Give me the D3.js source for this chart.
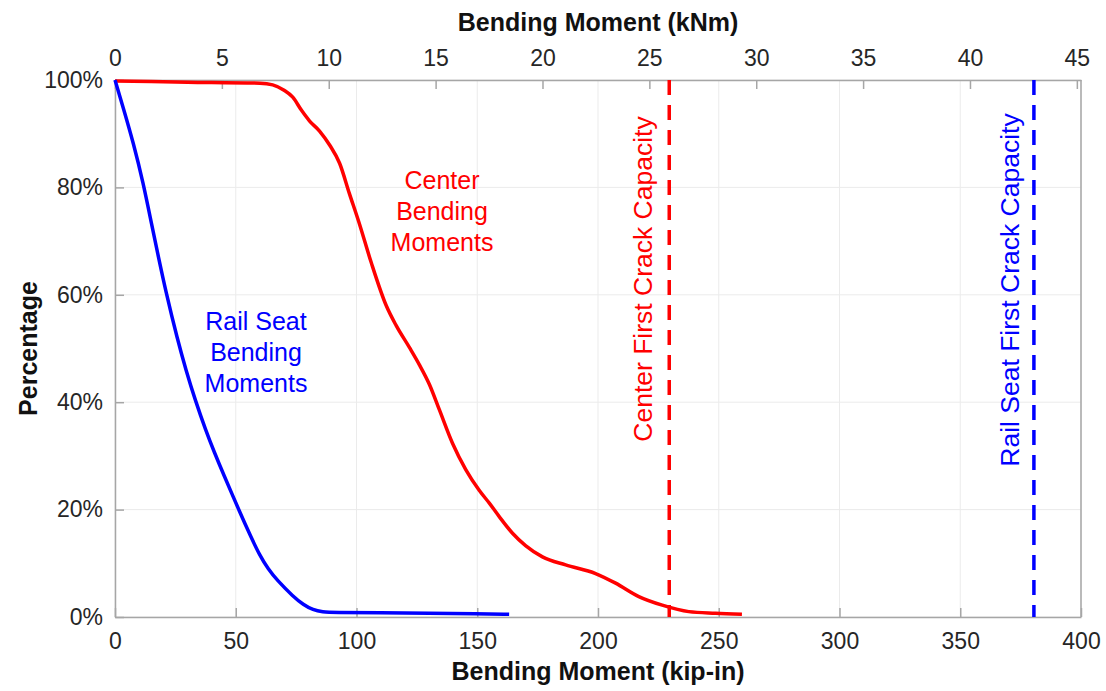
<!DOCTYPE html>
<html>
<head>
<meta charset="utf-8">
<script src="https://cdn.jsdelivr.net/npm/d3@7"></script>
<style>
  html, body { margin: 0; padding: 0; background: #fff; }
  svg { display: block; font-family: "Liberation Sans", Arial, Helvetica, sans-serif; }
</style>
</head>
<body>
<svg id="chart" width="1106" height="691"></svg>
<script>
// Cumulative exceedance of bending moment: [kip-in, percent]
const centerSeries = [
  [0, 99.8], [30, 99.6], [60, 99.4], [65.3, 99.1], [70, 98.1], [73.6, 96.8],
  [77.3, 94.3], [80.5, 92.4], [84.7, 90.5], [89, 87.8], [93, 84.5], [97.1, 78.8],
  [101, 73.5], [106.1, 66], [112.3, 58], [116.4, 54.3], [121.9, 50.2], [126, 47],
  [130.2, 43.3], [134.3, 38.6], [139.7, 32.4], [145.3, 27.4], [150.8, 23.6],
  [155, 21.2], [159.1, 18.7], [164.6, 15.6], [170, 13.3], [177, 11.2],
  [186.6, 9.7], [199, 8.1], [207.3, 6.3], [216.9, 3.8], [226.6, 2.2],
  [237.6, 1.0], [248.6, 0.7], [259.6, 0.5]
];
const railSeatSeries = [
  [0, 100], [3.5, 94.7], [7.6, 88.3], [11.7, 80.8], [15, 73.5], [18, 67.0],
  [20.9, 60.9], [25.9, 51.6], [29.5, 45.8], [33.2, 40.4], [37.7, 34.6],
  [41.2, 30.6], [44.7, 26.8], [51.8, 19.4], [56, 15.2], [60, 11.4], [63.5, 8.9],
  [67, 6.9], [73.8, 3.8], [78, 2.3], [82, 1.3], [86, 0.95], [90.3, 0.85],
  [110, 0.8], [130, 0.7], [150, 0.6], [163.2, 0.5]
];

// First crack capacities (kip-in)
const centerCapacity = 229.5;
const railSeatCapacity = 380.5;

// Axis ticks and labels
const xTicksKipIn = [0, 50, 100, 150, 200, 250, 300, 350, 400];
const xTicksKNm = [0, 5, 10, 15, 20, 25, 30, 35, 40, 45];
const yTicks = [0, 20, 40, 60, 80, 100];
const kipInPerKNm = 8.8507;

const xTitleBottom = "Bending Moment (kip-in)";
const xTitleTop = "Bending Moment (kNm)";
const yTitle = "Percentage";
const centerLabel = ["Center", "Bending", "Moments"];
const railSeatLabel = ["Rail Seat", "Bending", "Moments"];
const centerCapLabel = "Center First Crack Capacity";
const railSeatCapLabel = "Rail Seat First Crack Capacity";

const RED = "#ff0000", BLUE = "#0000ff";
const AXIS = "#a6a6a6", GRID = "#ebebeb", TICKTXT = "#262626";

const svg = d3.select("#chart");
const m = { left: 115, right: 1081, top: 80, bottom: 617 };

const x = d3.scaleLinear().domain([0, 400]).range([m.left, m.right]);
const xTop = d3.scaleLinear().domain([0, 400 / kipInPerKNm]).range([m.left, m.right]);
const y = d3.scaleLinear().domain([0, 100]).range([m.bottom, m.top]);

// Grid
const grid = svg.append("g");
grid.selectAll("line.gx").data(xTicksKipIn).join("line")
  .attr("x1", d => x(d)).attr("x2", d => x(d))
  .attr("y1", m.top).attr("y2", m.bottom)
  .attr("stroke", GRID).attr("stroke-width", 1);
grid.selectAll("line.gy").data(yTicks).join("line")
  .attr("x1", m.left).attr("x2", m.right)
  .attr("y1", d => y(d)).attr("y2", d => y(d))
  .attr("stroke", GRID).attr("stroke-width", 1);

// Axes (ticks point inward)
function styleAxis(g) {
  g.select(".domain").attr("stroke", AXIS).attr("stroke-width", 1.5);
  g.selectAll(".tick line").attr("stroke", AXIS).attr("stroke-width", 1.5);
  g.selectAll(".tick text").attr("fill", TICKTXT)
    .style("font-size", "23px").style("font-family", "'Liberation Sans', Arial, sans-serif");
}

svg.append("g").attr("transform", `translate(0,${m.bottom})`)
  .call(d3.axisBottom(x).tickValues(xTicksKipIn).tickFormat(d3.format("d"))
    .tickSizeInner(-9).tickSizeOuter(0).tickPadding(16))
  .call(styleAxis);

svg.append("g").attr("transform", `translate(0,${m.top})`)
  .call(d3.axisTop(xTop).tickValues(xTicksKNm).tickFormat(d3.format("d"))
    .tickSizeInner(-9).tickSizeOuter(0).tickPadding(14))
  .call(styleAxis);

svg.append("g").attr("transform", `translate(${m.left},0)`)
  .call(d3.axisLeft(y).tickValues(yTicks).tickFormat(d => d + "%")
    .tickSizeInner(-9).tickSizeOuter(0).tickPadding(12))
  .call(styleAxis);

svg.append("line")
  .attr("x1", m.right).attr("x2", m.right)
  .attr("y1", m.top).attr("y2", m.bottom)
  .attr("stroke", AXIS).attr("stroke-width", 1.5);

// Axis titles
svg.append("text").attr("x", (m.left + m.right) / 2).attr("y", 680)
  .attr("text-anchor", "middle").attr("font-size", 25).attr("font-weight", "bold")
  .attr("fill", "#111").text(xTitleBottom);
svg.append("text").attr("x", (m.left + m.right) / 2).attr("y", 31)
  .attr("text-anchor", "middle").attr("font-size", 25).attr("font-weight", "bold")
  .attr("fill", "#111").text(xTitleTop);
svg.append("text")
  .attr("transform", `translate(37,${(m.top + m.bottom) / 2}) rotate(-90)`)
  .attr("text-anchor", "middle").attr("font-size", 25).attr("font-weight", "bold")
  .attr("fill", "#111").text(yTitle);

// Capacity lines
function capacity(value, color) {
  svg.append("line")
    .attr("x1", x(value)).attr("x2", x(value))
    .attr("y1", y(100)).attr("y2", y(0))
    .attr("stroke", color).attr("stroke-width", 3.5)
    .attr("stroke-dasharray", "15,10");
}
capacity(centerCapacity, RED);
capacity(railSeatCapacity, BLUE);

// Curves
const lineCenter = d3.line().x(d => x(d[0])).y(d => y(d[1])).curve(d3.curveMonotoneX);
const lineRail = d3.line().x(d => x(d[0])).y(d => y(d[1])).curve(d3.curveBasis);
svg.append("path").datum(centerSeries).attr("d", lineCenter)
  .attr("fill", "none").attr("stroke", RED).attr("stroke-width", 3.5)
  .attr("stroke-linejoin", "round");
svg.append("path").datum(railSeatSeries).attr("d", lineRail)
  .attr("fill", "none").attr("stroke", BLUE).attr("stroke-width", 3.5)
  .attr("stroke-linejoin", "round");

// Curve annotations
function multiLine(lines, cx, baseline, color) {
  const t = svg.append("text").attr("text-anchor", "middle")
    .attr("font-size", 25).attr("fill", color);
  lines.forEach((s, i) => {
    t.append("tspan").attr("x", cx).attr("y", baseline + i * 31).text(s);
  });
}
multiLine(centerLabel, 442, 189, RED);
multiLine(railSeatLabel, 256, 330, BLUE);

// Capacity annotations (vertical)
svg.append("text")
  .attr("transform", `translate(${x(centerCapacity) - 17},279) rotate(-90)`)
  .attr("text-anchor", "middle").attr("font-size", 26.5).attr("fill", RED)
  .text(centerCapLabel);
svg.append("text")
  .attr("transform", `translate(${x(railSeatCapacity) - 15},290) rotate(-90)`)
  .attr("text-anchor", "middle").attr("font-size", 26.5).attr("fill", BLUE)
  .text(railSeatCapLabel);
</script>
</body>
</html>
